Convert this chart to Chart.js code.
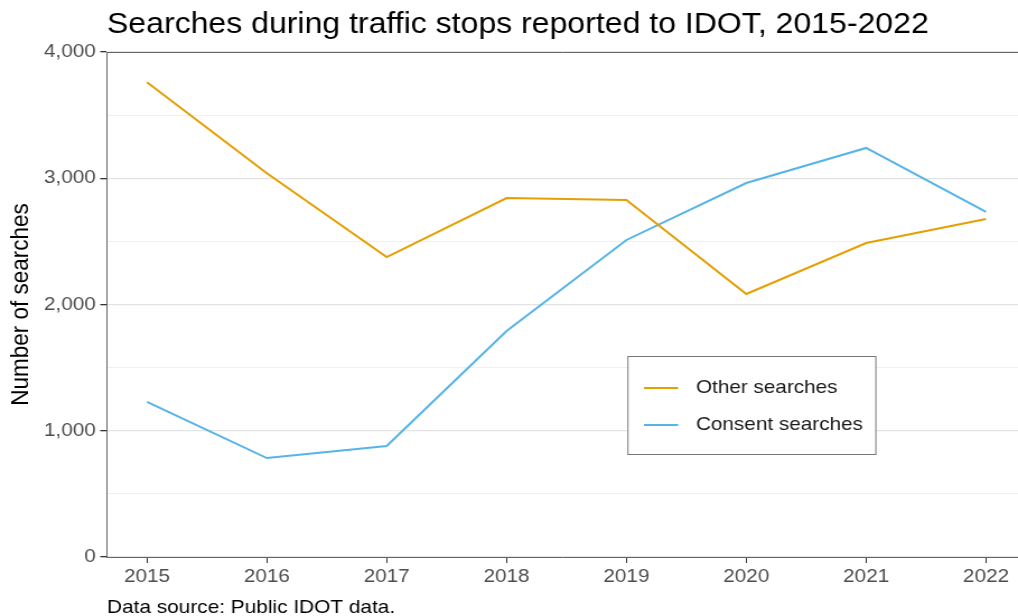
<!DOCTYPE html>
<html>
<head>
<meta charset="utf-8">
<script src="https://cdn.jsdelivr.net/npm/chart.js@4.4.1/dist/chart.umd.min.js"></script>
<style>
  html, body { margin: 0; padding: 0; background: #fff; overflow: hidden; }
</style>
</head>
<body>
<canvas id="c" width="909" height="616" style="display:block;width:1018px;height:616px;"></canvas>
<script>
const years = [2015, 2016, 2017, 2018, 2019, 2020, 2021, 2022];
const otherSearches = [3760, 3040, 2376, 2843, 2828, 2083, 2487, 2677];
const consentSearches = [1228, 784, 879, 1790, 2511, 2962, 3240, 2733];
const seriesLabels = ['Other searches', 'Consent searches'];
const seriesColors = ['#E69F00', '#56B4E9'];
const yTickValues = [0, 1000, 2000, 3000, 4000];
const titleText = 'Searches during traffic stops reported to IDOT, 2015-2022';
const yAxisText = 'Number of searches';
const captionText = 'Data source: Public IDOT data.';

const FONT = '"Liberation Sans", Arial, Helvetica, sans-serif';

const toPoints = vals => vals.map((v, i) => ({ x: years[i], y: v }));

const decorPlugin = {
  id: 'decor',
  afterDatasetsDraw(chart) {
    const ctx = chart.ctx;
    const a = chart.chartArea;
    ctx.save();
    // top panel border
    ctx.strokeStyle = '#666666';
    ctx.lineWidth = 1;
    ctx.beginPath();
    ctx.moveTo(a.left, a.top + 0.5);
    ctx.lineTo(a.right, a.top + 0.5);
    ctx.stroke();

    // legend box
    const bx = 560.7, by = 356.5, bw = 221.4, bh = 98;
    ctx.fillStyle = '#ffffff';
    ctx.fillRect(bx, by, bw, bh);
    ctx.strokeStyle = '#777777';
    ctx.strokeRect(bx, by, bw, bh);
    chart.data.datasets.forEach((ds, i) => {
      const yy = 388 + i * 37;
      ctx.strokeStyle = ds.borderColor;
      ctx.lineWidth = 2;
      ctx.beginPath();
      ctx.moveTo(575, yy);
      ctx.lineTo(605.5, yy);
      ctx.stroke();
      ctx.fillStyle = '#1a1a1a';
      ctx.font = '18.5px ' + FONT;
      ctx.textBaseline = 'middle';
      ctx.textAlign = 'left';
      ctx.fillText(ds.label, 621.4, yy);
    });
    ctx.restore();
  },
  afterDraw(chart) {
    const ctx = chart.ctx;
    const a = chart.chartArea;
    ctx.save();
    ctx.fillStyle = '#000000';
    ctx.textAlign = 'left';
    ctx.textBaseline = 'alphabetic';
    ctx.font = '28.6px ' + FONT;
    ctx.fillText(titleText, a.left, 33);
    ctx.font = '18.6px ' + FONT;
    ctx.fillText(captionText, a.left, 612.5);
    // y axis title
    ctx.translate(25, (a.top + a.bottom) / 2);
    ctx.rotate(-Math.PI / 2);
    ctx.textAlign = 'center';
    ctx.textBaseline = 'alphabetic';
    ctx.font = '22.5px ' + FONT;
    ctx.fillText(yAxisText, 0, 0);
    ctx.restore();
  }
};

new Chart(document.getElementById('c'), {
  type: 'line',
  data: {
    datasets: [
      { label: seriesLabels[0], data: toPoints(otherSearches), borderColor: seriesColors[0], backgroundColor: seriesColors[0] },
      { label: seriesLabels[1], data: toPoints(consentSearches), borderColor: seriesColors[1], backgroundColor: seriesColors[1] }
    ]
  },
  options: {
    responsive: false,
    animation: false,
    devicePixelRatio: 1,
    layout: { padding: { top: 52, left: 0, right: 0, bottom: 0 } },
    elements: {
      line: { borderWidth: 2, tension: 0 },
      point: { radius: 0, hoverRadius: 0 }
    },
    plugins: {
      legend: { display: false },
      title: { display: false },
      tooltip: { enabled: false }
    },
    scales: {
      x: {
        type: 'linear',
        min: 2014.666,
        max: 2022.267,
        afterBuildTicks: s => { s.ticks = years.map(v => ({ value: v })); },
        afterFit: s => { s.height = 59; },
        grid: { drawOnChartArea: false, drawTicks: true, tickLength: 6, tickColor: '#333333', tickWidth: 1 },
        border: { display: true, color: '#666666', width: 1 },
        ticks: { color: '#4d4d4d', font: { family: FONT, size: 18.5 }, padding: 3, maxRotation: 0, autoSkip: false,
                 callback: v => String(v) }
      },
      y: {
        min: 0,
        max: 4000,
        afterBuildTicks: s => {
          const t = [];
          for (let v = 0; v <= 4000; v += 500) t.push({ value: v });
          s.ticks = t;
        },
        afterFit: s => { s.width = 95.5; },
        grid: {
          color: c => (c.tick && c.tick.value % 1000 === 0) ? '#e4e4e4' : '#f0f0f0',
          lineWidth: c => (c.tick && c.tick.value % 1000 === 0) ? 1.3 : 1,
          tickColor: c => (c.tick && yTickValues.includes(c.tick.value)) ? '#333333' : 'rgba(0,0,0,0)',
          tickLength: 6,
          drawTicks: true
        },
        border: { display: true, color: '#666666', width: 1 },
        ticks: {
          color: '#4d4d4d', font: { family: FONT, size: 18.5 }, padding: 4, autoSkip: false,
          callback: v => yTickValues.includes(v) ? v.toLocaleString('en-US') : ''
        }
      }
    }
  },
  plugins: [decorPlugin]
});
</script>
</body>
</html>
